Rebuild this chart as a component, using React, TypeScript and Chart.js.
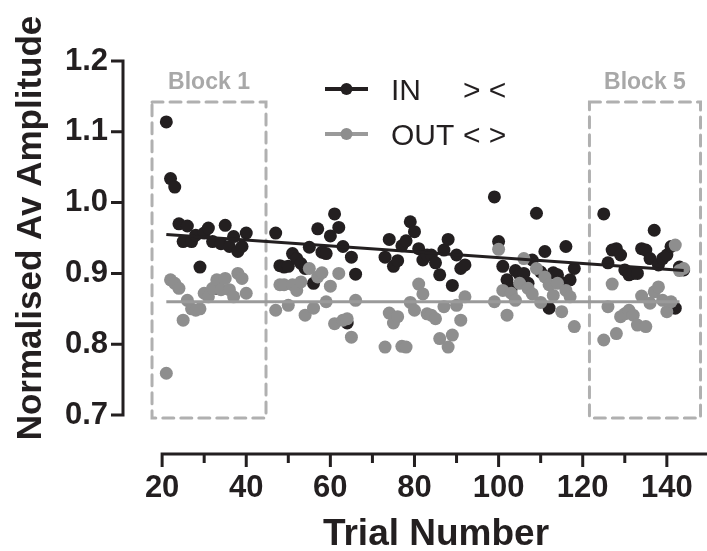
import React, { useEffect, useRef } from "react";
import { Chart, registerables } from "chart.js";

Chart.register(...registerables);

// ---- data ----
const trials = [
  21, 22, 23, 24, 25, 26, 27, 28, 29, 30, 31, 32, 33, 34, 35, 36, 37, 38, 39, 40,
  47, 48, 49, 50, 51, 52, 53, 54, 55, 56, 57, 58, 59, 60, 61, 62, 63, 64, 65, 66,
  73, 74, 75, 76, 77, 78, 79, 80, 81, 82, 83, 84, 85, 86, 87, 88, 89, 90, 91, 92,
  99, 100, 101, 102, 103, 104, 105, 106, 107, 108, 109, 110, 111, 112, 113, 114, 115, 116, 117, 118,
  125, 126, 127, 128, 129, 130, 131, 132, 133, 134, 135, 136, 137, 138, 139, 140, 141, 142, 143, 144,
];

const inValues = [
  1.114, 1.034, 1.022, 0.97, 0.945, 0.967, 0.945, 0.954, 0.909, 0.957, 0.964, 0.945, 0.879, 0.942, 0.968, 0.938, 0.952, 0.931, 0.938, 0.957,
  0.957, 0.911, 0.909, 0.91, 0.928, 0.921, 0.914, 0.907, 0.937, 0.886, 0.963, 0.93, 0.928, 0.953, 0.984, 0.965, 0.938, 0.83, 0.923, 0.899,
  0.923, 0.948, 0.91, 0.918, 0.939, 0.946, 0.973, 0.959, 0.935, 0.919, 0.926, 0.926, 0.915, 0.898, 0.933, 0.948, 0.883, 0.926, 0.907, 0.912,
  1.008, 0.945, 0.91, 0.891, 0.879, 0.904, 0.898, 0.9, 0.886, 0.919, 0.985, 0.902, 0.931, 0.851, 0.901, 0.898, 0.887, 0.938, 0.891, 0.907,
  0.984, 0.915, 0.933, 0.935, 0.926, 0.905, 0.898, 0.9, 0.9, 0.935, 0.933, 0.921, 0.961, 0.912, 0.921, 0.926, 0.938, 0.851, 0.909, 0.905,
];

const outValues = [
  0.759, 0.891, 0.886, 0.879, 0.834, 0.862, 0.85, 0.848, 0.85, 0.872, 0.867, 0.879, 0.891, 0.877, 0.893, 0.877, 0.867, 0.9, 0.893, 0.872,
  0.848, 0.884, 0.884, 0.855, 0.884, 0.876, 0.888, 0.841, 0.907, 0.851, 0.895, 0.901, 0.86, 0.882, 0.829, 0.9, 0.834, 0.836, 0.81, 0.862,
  0.796, 0.844, 0.83, 0.839, 0.797, 0.796, 0.859, 0.848, 0.885, 0.871, 0.843, 0.841, 0.836, 0.808, 0.853, 0.796, 0.813, 0.855, 0.834, 0.867,
  0.86, 0.934, 0.876, 0.841, 0.872, 0.862, 0.886, 0.921, 0.879, 0.871, 0.907, 0.859, 0.895, 0.884, 0.869, 0.886, 0.846, 0.876, 0.867, 0.825,
  0.806, 0.853, 0.885, 0.815, 0.839, 0.843, 0.848, 0.841, 0.827, 0.868, 0.825, 0.858, 0.874, 0.881, 0.862, 0.846, 0.86, 0.94, 0.904, 0.907,
];

// fitted lines
const inFitX = [21, 144];
const inFitY = [0.955, 0.904];
const outFitX = [21, 143];
const outFitY = [0.86, 0.86];

const xTickLabels = [20, 40, 60, 80, 100, 120, 140];
const xMinorTicks = [30, 50, 70, 90, 110, 130];
const yTickLabels = [0.7, 0.8, 0.9, 1.0, 1.1, 1.2];

const blockNames = ["Block 1", "Block 5"];
const blockStart = [17.6, 121.6];
const blockEnd = [44.7, 148];
const blockLow = 0.696;
const blockHigh = 1.142;

const legendNames = ["IN", "OUT"];
const legendArrows = ["> <", "< >"];

const BLACK = "#231f20";
const GRAY = "#8e8e8e";
const GRAY_LINE = "#9a9a9a";
const BOX = "#b0b0b0";
const FONT = "'Liberation Sans', Arial, Helvetica, sans-serif";

const decorPlugin = {
  id: "decor",
  beforeDatasetsDraw(chart: any) {
    const { ctx, scales } = chart;
    const x = scales.x;
    const y = scales.y;
    ctx.save();
    ctx.lineCap = "round";
    for (let i = 0; i < blockNames.length; i++) {
      const l = x.getPixelForValue(blockStart[i]);
      const r = x.getPixelForValue(blockEnd[i]);
      const t = y.getPixelForValue(blockHigh);
      const b = y.getPixelForValue(blockLow);
      ctx.strokeStyle = BOX;
      ctx.lineWidth = 3;
      ctx.setLineDash([11, 7]);
      ctx.strokeRect(l, t, r - l, b - t);
      ctx.setLineDash([]);
      ctx.fillStyle = "#a8a8a8";
      ctx.font = `bold 23px ${FONT}`;
      ctx.textAlign = "center";
      ctx.textBaseline = "alphabetic";
      ctx.fillText(blockNames[i], (l + r) / 2, t - 13);
    }
    ctx.restore();
  },
  afterDraw(chart: any) {
    const { ctx, scales } = chart;
    const x = scales.x;
    const y = scales.y;
    const area = chart.chartArea;
    ctx.save();
    ctx.strokeStyle = BLACK;
    ctx.lineWidth = 3;
    ctx.lineCap = "butt";
    // y axis
    const yTop = y.getPixelForValue(1.2);
    const yBot = y.getPixelForValue(0.7);
    const ax = area.left;
    ctx.beginPath();
    ctx.moveTo(ax, yTop - 1.5);
    ctx.lineTo(ax, yBot + 1.5);
    for (const v of yTickLabels) {
      const py = y.getPixelForValue(v);
      ctx.moveTo(ax, py);
      ctx.lineTo(ax - 12, py);
    }
    ctx.stroke();
    // x axis
    const ay = area.bottom;
    const x0 = x.getPixelForValue(20);
    ctx.beginPath();
    ctx.moveTo(x0 - 1.5, ay);
    ctx.lineTo(chart.width, ay);
    for (const v of xTickLabels) {
      const px = x.getPixelForValue(v);
      ctx.moveTo(px, ay);
      ctx.lineTo(px, ay + 13);
    }
    for (const v of xMinorTicks) {
      const px = x.getPixelForValue(v);
      ctx.moveTo(px, ay);
      ctx.lineTo(px, ay + 9);
    }
    ctx.stroke();

    // axis titles
    ctx.fillStyle = BLACK;
    ctx.textAlign = "center";
    ctx.textBaseline = "alphabetic";
    ctx.font = `bold 37px ${FONT}`;
    ctx.fillText("Trial Number", 436, 545);
    ctx.font = `bold 35px ${FONT}`;
    ctx.save();
    ctx.translate(41, 228);
    ctx.rotate(-Math.PI / 2);
    ctx.fillText("Normalised Av Amplitude", 0, 0);
    ctx.restore();

    // legend
    const rows = [
      { y: 89, color: BLACK },
      { y: 134, color: GRAY_LINE },
    ];
    ctx.font = `30px ${FONT}`;
    ctx.textAlign = "left";
    for (let i = 0; i < rows.length; i++) {
      const r = rows[i];
      ctx.strokeStyle = r.color;
      ctx.lineWidth = 4;
      ctx.beginPath();
      ctx.moveTo(325, r.y);
      ctx.lineTo(368, r.y);
      ctx.stroke();
      ctx.fillStyle = i === 0 ? BLACK : GRAY;
      ctx.beginPath();
      ctx.arc(346.5, r.y, 6, 0, Math.PI * 2);
      ctx.fill();
      ctx.fillStyle = BLACK;
      ctx.fillText(legendNames[i], 391, r.y + 11);
      ctx.fillText(legendArrows[i], 463, r.y + 11);
    }
    ctx.restore();
  },
};

export default function App() {
  const ref = useRef<HTMLCanvasElement | null>(null);

  useEffect(() => {
    if (!ref.current) return;
    const inPts = trials.map((t, i) => ({ x: t, y: inValues[i] }));
    const outPts = trials.map((t, i) => ({ x: t, y: outValues[i] }));
    const inFit = inFitX.map((t, i) => ({ x: t, y: inFitY[i] }));
    const outFit = outFitX.map((t, i) => ({ x: t, y: outFitY[i] }));

    const tickFont = { family: FONT, size: 31, weight: "bold" as const };

    const chart = new Chart(ref.current, {
      type: "scatter",
      data: {
        datasets: [
          {
            type: "line",
            label: "IN fit",
            data: inFit,
            borderColor: BLACK,
            borderWidth: 3,
            pointRadius: 0,
            order: 0,
          },
          {
            type: "line",
            label: "OUT fit",
            data: outFit,
            borderColor: GRAY_LINE,
            borderWidth: 3,
            pointRadius: 0,
            order: 1,
          },
          {
            label: "OUT",
            data: outPts,
            backgroundColor: GRAY,
            borderWidth: 0,
            pointRadius: 6.5,
            order: 2,
          },
          {
            label: "IN",
            data: inPts,
            backgroundColor: BLACK,
            borderWidth: 0,
            pointRadius: 6.5,
            order: 3,
          },
        ],
      },
      options: {
        animation: false,
        responsive: false,
        devicePixelRatio: 1,
        layout: { padding: { top: 61, left: 0, right: 2, bottom: 0 } },
        plugins: {
          legend: { display: false },
          tooltip: { enabled: false },
          title: { display: false },
        },
        scales: {
          x: {
            type: "linear",
            min: 10.7,
            max: 148,
            grid: { display: false, drawTicks: false },
            border: { display: false },
            afterBuildTicks: (s: any) => {
              s.ticks = xTickLabels.map((v) => ({ value: v }));
            },
            afterFit: (s: any) => {
              s.height = 97;
              s.paddingLeft = 0;
              s.paddingRight = 0;
            },
            ticks: {
              autoSkip: false,
              maxRotation: 0,
              padding: 16,
              color: BLACK,
              font: tickFont,
              callback: (v: any) => String(v),
            },
          },
          y: {
            type: "linear",
            min: 0.645,
            max: 1.2,
            grid: { display: false, drawTicks: false },
            border: { display: false },
            afterBuildTicks: (s: any) => {
              s.ticks = yTickLabels.map((v) => ({ value: v }));
            },
            afterFit: (s: any) => {
              s.width = 123;
              s.paddingTop = 0;
              s.paddingBottom = 0;
            },
            ticks: {
              autoSkip: false,
              padding: 15,
              color: BLACK,
              font: tickFont,
              callback: (v: any) => Number(v).toFixed(1),
            },
          },
        },
      },
      plugins: [decorPlugin],
    });
    return () => chart.destroy();
  }, []);

  return (
    <div style={{ position: "absolute", left: 0, top: 0, width: 707, height: 551, background: "#fff" }}>
      <canvas ref={ref} width={707} height={551} style={{ display: "block", width: 707, height: 551 }} />
    </div>
  );
}
